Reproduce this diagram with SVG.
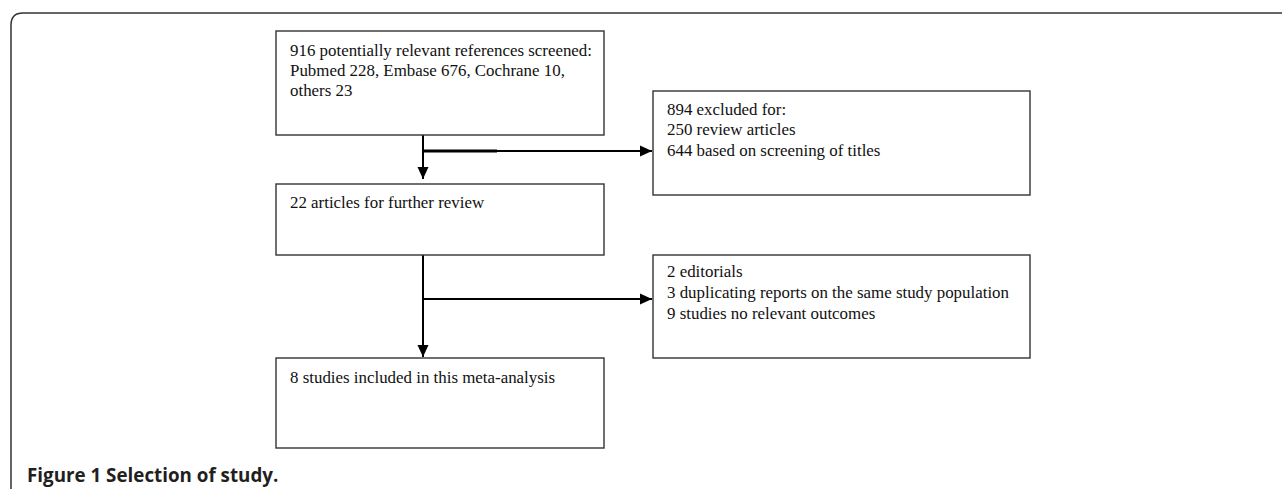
<svg xmlns="http://www.w3.org/2000/svg" width="1282" height="489" viewBox="0 0 1282 489">
<style>
.box{fill:#fff;stroke:#333;stroke-width:1.4}
.t{font-family:"Liberation Serif","Times New Roman",serif;font-size:16.9px;fill:#111}
.c{stroke:#000;stroke-width:2;fill:none}
.cap{font-family:"Open Sans","Liberation Sans",sans-serif;font-weight:bold;font-size:18.8px;fill:#231f20}
</style>
<defs>
<marker id="ah" markerWidth="12" markerHeight="12" refX="12" refY="6" orient="auto" markerUnits="userSpaceOnUse">
<path d="M0,0.5 L12,6 L0,11.5 Z" fill="#000"/>
</marker>
</defs>
<rect width="1282" height="489" fill="#fff"/>
<path d="M11,489 L11,25 Q11,13 23,13 L1282,13" fill="none" stroke="#333" stroke-width="1.5"/>
<g id="connectors">
<path class="c" d="M423,135 L423,179" marker-end="url(#ah)"/>
<path class="c" d="M423,151 L652,151" marker-end="url(#ah)"/>
<path d="M423,151 L497,151" stroke="#000" stroke-width="3"/>
<path class="c" d="M423,255 L423,357" marker-end="url(#ah)"/>
<path class="c" d="M423,299 L652,299" marker-end="url(#ah)"/>
</g>
<g id="n1">
<rect class="box" x="276" y="31" width="328" height="104"/>
<text class="t" x="290" y="56">916 potentially relevant references screened:</text>
<text class="t" x="290" y="76">Pubmed 228, Embase 676, Cochrane 10,</text>
<text class="t" x="290" y="96">others 23</text>
</g>
<g id="n2">
<rect class="box" x="653" y="91" width="377" height="104"/>
<text class="t" x="667" y="115">894 excluded for:</text>
<text class="t" x="667" y="135">250 review articles</text>
<text class="t" x="667" y="156">644 based on screening of titles</text>
</g>
<g id="n3">
<rect class="box" x="276" y="184" width="328" height="71"/>
<text class="t" x="290" y="208">22 articles for further review</text>
</g>
<g id="n4">
<rect class="box" x="653" y="255" width="377" height="103"/>
<text class="t" x="667" y="277">2 editorials</text>
<text class="t" x="667" y="298">3 duplicating reports on the same study population</text>
<text class="t" x="667" y="319">9 studies no relevant outcomes</text>
</g>
<g id="n5">
<rect class="box" x="276" y="358" width="328" height="90"/>
<text class="t" x="290" y="383">8 studies included in this meta-analysis</text>
</g>
<text class="cap" x="27" y="482">Figure 1 Selection of study.</text>
</svg>
